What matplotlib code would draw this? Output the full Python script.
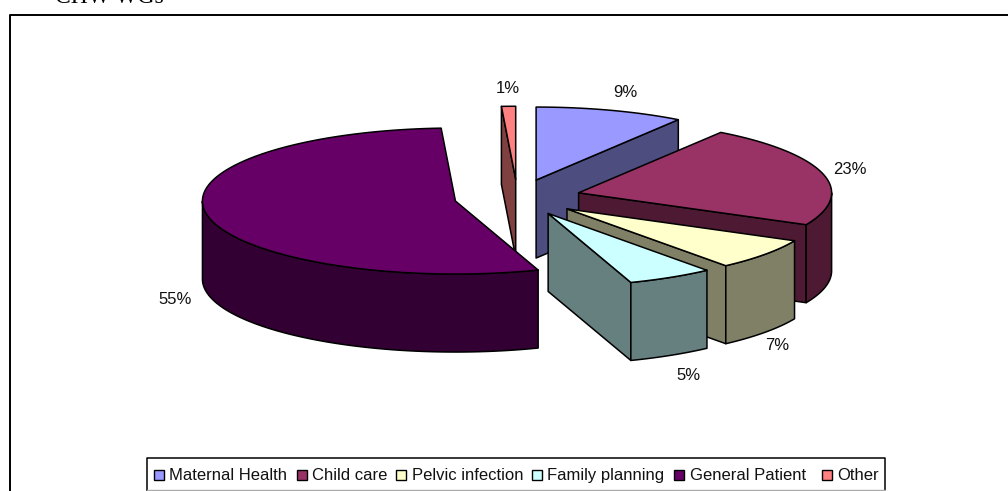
import numpy as np
import matplotlib
matplotlib.use("Agg")
import matplotlib.pyplot as plt
from matplotlib.patches import Polygon, Rectangle

plt.rcParams['font.family'] = ['Liberation Sans', 'DejaVu Sans']

# Slices, clockwise from 12 o'clock
categories = ["Maternal Health", "Child care", "Pelvic infection", "Family planning", "General Patient", "Other"]
values     = [9.5, 22.7, 7.0, 5.5, 54.4, 0.9]
labels     = ["9%", "23%", "7%", "5%", "55%", "1%"]

COLORS_TOP  = ['#9999FF', '#993366', '#FFFFCC', '#CCFFFF', '#660066', '#FF8080']
COLORS_SIDE = ['#4D4D80', '#4D1933', '#808066', '#668080', '#330033', '#804040']

# Where the labels and legend entries sit, in image pixels
LABEL_POS   = [(625, 92), (850, 170), (777, 346), (688, 375), (175, 299), (508, 88)]
SWATCH_X    = [154, 297, 396, 532, 674, 822]
LEGEND_TX   = [169, 312, 412, 547, 690, 837]

# Pie geometry, image pixels
CX, CY  = 517.5, 197.5
RX, RY  = 253, 73
DEPTH   = 78
EXPLODE = 0.25

fig = plt.figure(figsize=(10.08, 4.91), dpi=100)
ax = fig.add_axes([0, 0, 1, 1])
ax.set_xlim(0, 1008)
ax.set_ylim(491, 0)
ax.axis("off")

def pt(theta, r=1.0, ox=0.0, oy=0.0):
    # theta in degrees clockwise from the top of the ellipse
    t = np.radians(theta)
    return ox + r*RX*np.sin(t), oy - r*RY*np.cos(t)

def arc(a, b, ox, oy):
    th = np.linspace(a, b, max(2, int(abs(b-a)*2)))
    return np.column_stack(pt(th, 1.0, ox, oy))

def add_poly(points, color, z):
    ax.add_patch(Polygon(points, closed=True, facecolor=color, edgecolor="black",
                         linewidth=1.1, joinstyle="round", zorder=z))

# Cumulative angles
angles = np.cumsum([0] + values) * 360.0 / sum(values)

# Back slices first
mids = [(angles[i] + angles[i+1]) / 2 for i in range(len(values))]
order = sorted(range(len(values)), key=lambda i: -np.cos(np.radians(mids[i])))

z = 2
for i in order:
    a, b = angles[i], angles[i+1]
    ox, oy = pt(mids[i], EXPLODE, CX, CY)
    tip = np.array([ox, oy])
    down = np.array([0, DEPTH])

    # cut face at the start of the slice
    if np.sin(np.radians(a)) < 0:
        p = np.array(pt(a, 1.0, ox, oy))
        add_poly([tip, p, p+down, tip+down], COLORS_SIDE[i], z)
        z += 1
    # cut face at the end of the slice
    if np.sin(np.radians(b)) > 0:
        p = np.array(pt(b, 1.0, ox, oy))
        add_poly([tip, p, p+down, tip+down], COLORS_SIDE[i], z)
        z += 1
    # outer rim, only the part that faces us
    r0, r1 = max(a, 90), min(b, 270)
    if r1 > r0:
        top_edge = arc(r0, r1, ox, oy)
        add_poly(np.vstack([top_edge, (top_edge + down)[::-1]]), COLORS_SIDE[i], z)
        z += 1
    # top face
    add_poly(np.vstack([tip, arc(a, b, ox, oy)]), COLORS_TOP[i], z)
    z += 1

for lab, (x, y) in zip(labels, LABEL_POS):
    ax.text(x, y, lab, fontsize=12, ha="center", va="center", color="#111111", zorder=50)

# Chart frame runs off the bottom and right of the image
ax.plot([9.5, 9.5, 1008], [491, 14.5, 14.5], color="black", lw=1.4, zorder=1)

# Legend
ax.plot([147, 147, 885, 885], [491, 457.5, 457.5, 491], color="black", lw=1.1, zorder=60)
ax.plot([147, 885], [490.3, 490.3], color="#AAAAAA", lw=1.0, zorder=60)
for i, name in enumerate(categories):
    ax.add_patch(Rectangle((SWATCH_X[i], 470), 9.5, 9.5, facecolor=COLORS_TOP[i],
                           edgecolor="black", linewidth=1.0, zorder=61))
    ax.text(LEGEND_TX[i], 480, name, fontsize=12, ha="left", va="baseline", color="#111111", zorder=61)

# Caption above the chart, cut by the top of the image
ax.text(55, 3, "CHW WGs", fontsize=17, family="Liberation Serif", ha="left", va="baseline", color="black")

fig.savefig("out.png", dpi=100)
